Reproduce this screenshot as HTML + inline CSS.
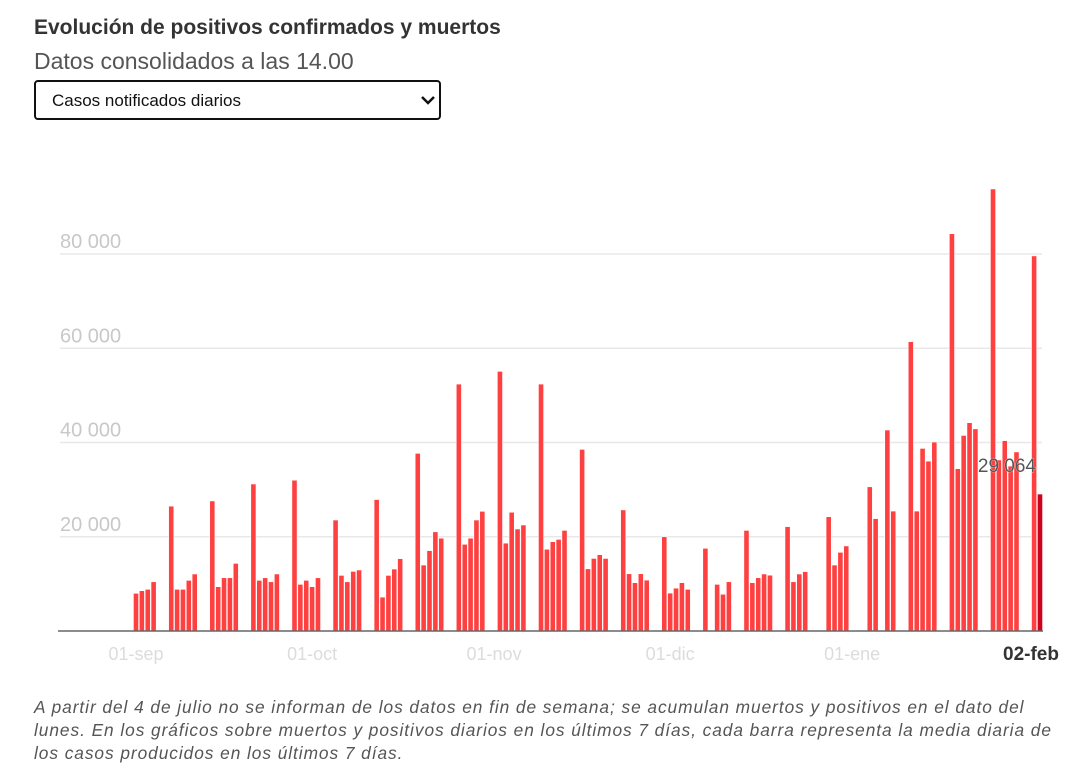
<!DOCTYPE html>
<html><head><meta charset="utf-8">
<style>
body{margin:0;width:1080px;height:779px;background:#fff;font-family:"Liberation Sans",sans-serif;overflow:hidden;position:relative}
.t{position:absolute;left:34px;top:16px;font-size:21px;font-weight:bold;color:#333}
.s{position:absolute;left:34px;top:48px;font-size:23px;color:#555}
.sel{position:absolute;left:34px;top:80px;width:403px;height:36px;border:2px solid #111;border-radius:4px;box-sizing:content-box}
.sel span{position:absolute;left:16px;top:9px;font-size:17px;color:#111}
.note{position:absolute;left:34px;top:696px;width:1030px;font-size:17.3px;letter-spacing:0.95px;line-height:23px;font-style:italic;color:#555}
svg{position:absolute;left:0;top:0}
</style></head><body>
<div class="t">Evolución de positivos confirmados y muertos</div>
<div class="s">Datos consolidados a las 14.00</div>
<div class="sel"><span>Casos notificados diarios</span>
<svg width="20" height="20" style="left:382px;top:9px"><path d="M4 6 L10 12 L16 6" fill="none" stroke="#111" stroke-width="2.5"/></svg></div>
<svg id="chart" width="1080" height="779" style="pointer-events:none"></svg>
<div class="note">A partir del 4 de julio no se informan de los datos en fin de semana; se acumulan muertos y positivos en el dato del<br>lunes. En los gráficos sobre muertos y positivos diarios en los últimos 7 días, cada barra representa la media diaria de<br>los casos producidos en los últimos 7 días.</div>
<script>
const dayIndex=[0,1,2,3,6,7,8,9,10,13,14,15,16,17,20,21,22,23,24,27,28,29,30,31,34,35,36,37,38,41,42,43,44,45,48,49,50,51,52,55,56,57,58,59,62,63,64,65,66,69,70,71,72,73,76,77,78,79,80,83,84,85,86,87,90,91,92,93,94,97,99,100,101,104,105,106,107,108,111,112,113,114,118,119,120,121,125,126,128,129,132,133,134,135,136,139,140,141,142,143,146,147,148,149,150,153,154];
const cases=[8000,8550,8850,10450,26500,8850,8850,10750,12100,27600,9400,11300,11300,14350,31200,10750,11300,10450,12100,32000,9900,10750,9400,11300,23550,11800,10450,12650,12950,27900,7200,11800,13150,15350,37700,14000,17050,21050,19700,52400,18400,19700,23550,25400,55100,18650,25200,21650,22500,52400,17350,18950,19450,21350,38550,13200,15400,16200,15400,25700,12150,10250,12150,10800,20000,8050,9100,10250,8850,17550,9900,7800,10450,21350,10250,11300,12100,11850,22150,10450,12100,12600,24250,14000,16700,18050,30600,23850,42650,25450,61400,25450,38750,36050,40100,84300,34450,41500,44200,42900,93800,36300,40400,35000,38000,79600,29064];
const yTicks=[20000,40000,60000,80000];
const yTickLabels=["20 000","40 000","60 000","80 000"];
const xTickDays=[0,30,61,91,122,154];
const xTickLabels=["01-sep","01-oct","01-nov","01-dic","01-ene","02-feb"];
const NS="http://www.w3.org/2000/svg";
const svg=document.getElementById('chart');
const y=v=>631-v/20000*94.25;
const x=d=>136+d*5.87;
function mk(tag,attrs){const e=document.createElementNS(NS,tag);for(const k in attrs)e.setAttribute(k,attrs[k]);svg.appendChild(e);return e;}
yTicks.forEach((v,i)=>{
  const g=mk('line',{x1:60,x2:1042,y1:y(v),y2:y(v),stroke:'#e8e8e8','stroke-width':1.5});
  
  
  const t=mk('text',{x:60,y:y(v)-6,'font-size':20,fill:'#c8c8c8','font-family':'Liberation Sans, sans-serif'});
  t.textContent=yTickLabels[i];
  
  
});
dayIndex.forEach((d,i)=>{
  const last=i===dayIndex.length-1;
  const r=mk('rect',{x:x(d)-2.6,y:y(cases[i]),width:5.2,height:631-y(cases[i]),fill:last?'#d0021b':'#ff4040',stroke:'#fff','stroke-width':0.6});
  
  
});
const ax=mk('line',{x1:58,x2:1043,y1:631,y2:631,stroke:'#666','stroke-width':1.5});


xTickDays.forEach((d,i)=>{
  const last=i===xTickDays.length-1;
  const t=mk('text',{x:last?1031:x(d),y:660,'text-anchor':'middle','font-size':last?19:18,'font-weight':last?'bold':'normal',fill:last?'#333':'#dcdcdc','font-family':'Liberation Sans, sans-serif'});
  t.textContent=xTickLabels[i];
  
  
});
const lv=mk('text',{x:1036,y:y(cases[cases.length-1])-22,'text-anchor':'end','font-size':19,fill:'#555',stroke:'#fff','stroke-width':0.5,'paint-order':'stroke','font-family':'Liberation Sans, sans-serif'});
lv.textContent=cases[cases.length-1].toLocaleString('en-US').replace(',',' ');


</script>
</body></html>
